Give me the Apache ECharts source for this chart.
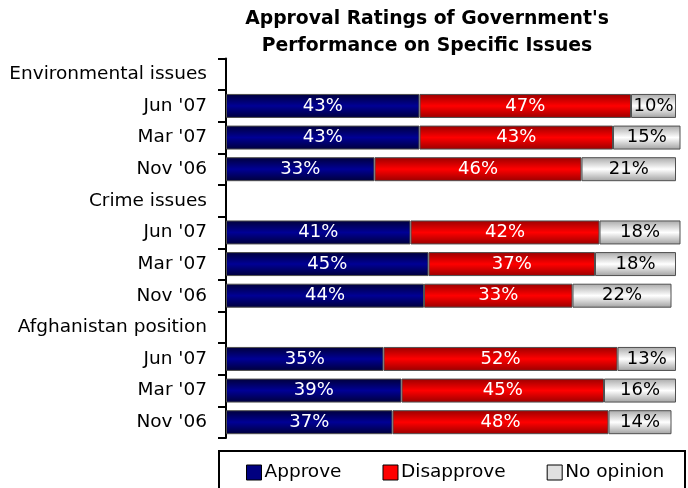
<!DOCTYPE html>
<html>
<head>
<meta charset="utf-8">
<script src="https://cdn.jsdelivr.net/npm/echarts@6/dist/echarts.min.js"></script>
<style>html,body{margin:0;padding:0;background:#fff;}#c{width:688px;height:488px;}</style>
</head>
<body>
<div id="c"></div>
<script>
const categories = ["Environmental issues","Jun '07","Mar '07","Nov '06","Crime issues","Jun '07","Mar '07","Nov '06","Afghanistan position","Jun '07","Mar '07","Nov '06"];
const approve    = ['-',43,43,33,'-',41,45,44,'-',35,39,37];
const disapprove = ['-',47,43,46,'-',42,37,33,'-',52,45,48];
const noOpinion  = ['-',10,15,21,'-',18,18,22,'-',13,16,14];
const seriesNames = ['Approve','Disapprove','No opinion'];

const FONT = 'DejaVu Sans';
function grad(edge, mid, edge2){
  return new echarts.graphic.LinearGradient(0,0,0,1,[
    {offset:0,color:edge},{offset:0.5,color:mid},{offset:1,color:edge2}]);
}
const fills = [
  grad('#00003a','#000095','#00003a'),
  grad('#9a0000','#ff0000','#9a0000'),
  grad('#a8a8a8','#ffffff','#a0a0a0')
];
const legendFills = ['#000080','#ff0000','#e0e0e0'];
const labelColors = ['#ffffff','#ffffff','#000000'];
const dataSets = [approve, disapprove, noOpinion];

const chart = echarts.init(document.getElementById('c'), null, {renderer:'canvas'});
chart.setOption({
  animation:false,
  title:{
    text:"Approval Ratings of Government's\nPerformance on Specific Issues",
    left:422, top:1, textAlign:'center',
    textStyle:{fontFamily:FONT, fontWeight:'bold', fontSize:18.8, lineHeight:27, color:'#000'}
  },
  grid:{left:226, top:58.5, width:459, height:379.5, containLabel:false},
  xAxis:{type:'value', min:0, max:102, show:false},
  yAxis:{
    type:'category', data:categories, inverse:true,
    axisLine:{show:true, lineStyle:{color:'#000', width:2}},
    axisTick:{show:true, length:8, lineStyle:{color:'#000', width:2}},
    axisLabel:{fontFamily:FONT, fontSize:18.5, color:'#000', margin:19}
  },
  legend:{
    left:241, top:458, itemWidth:15, itemHeight:15, itemGap:41,
    textStyle:{fontFamily:FONT, fontSize:18.5, color:'#000', padding:[0,0,0,-2]},
    data:seriesNames.map((n,i)=>({name:n, icon:'rect', itemStyle:{color:legendFills[i], borderColor:'#000', borderWidth:1}}))
  },
  graphic:[{type:'rect', shape:{x:219, y:451, width:466, height:40}, style:{fill:'none', stroke:'#000', lineWidth:2}, z:-1}],
  series: seriesNames.map((n,i)=>({
    name:n, type:'bar', stack:'all', barWidth:24, clip:false,
    data:dataSets[i],
    itemStyle:{color:fills[i], borderColor:'#505050', borderWidth:1},
    label:{show:true, position:'inside', formatter:'{c}%', fontFamily:FONT, fontSize:18, color:labelColors[i]}
  }))
});
</script>
</body>
</html>
